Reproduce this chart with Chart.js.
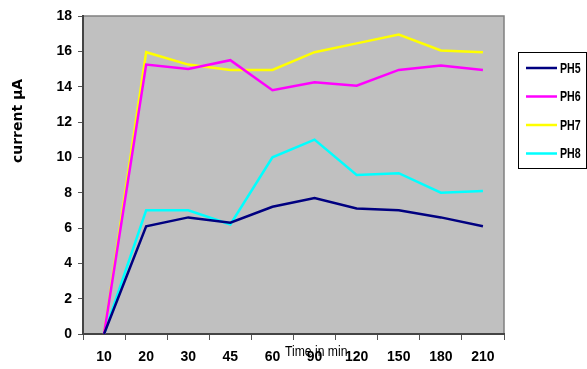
<!DOCTYPE html>
<html>
<head>
<meta charset="utf-8">
<script src="https://cdn.jsdelivr.net/npm/chart.js@4/dist/chart.umd.min.js"></script>
<style>
  html, body { margin: 0; padding: 0; background: #fff; }
  #wrap { width: 587px; height: 369px; position: relative; }
</style>
</head>
<body>
<div id="wrap"><canvas id="c" width="587" height="369"></canvas></div>
<script>
// Sampling times (minutes)
const times = ['10', '20', '30', '45', '60', '90', '120', '150', '180', '210'];

// Current (µA) for each pH
const ph5 = [0, 6.1, 6.6, 6.3, 7.2, 7.7, 7.1, 7.0, 6.6, 6.1];
const ph6 = [0, 15.25, 15.0, 15.5, 13.8, 14.25, 14.05, 14.95, 15.2, 14.95];
const ph7 = [0, 15.95, 15.25, 14.95, 14.95, 15.95, 16.45, 16.95, 16.05, 15.95];
const ph8 = [0, 7.0, 7.0, 6.2, 10.0, 11.0, 9.0, 9.1, 8.0, 8.1];

const seriesNames = ['PH5', 'PH6', 'PH7', 'PH8'];
const seriesColors = ['#000080', '#FF00FF', '#FFFF00', '#00FFFF'];
const yTicks = [0, 2, 4, 6, 8, 10, 12, 14, 16, 18];

const SANS = '"Liberation Sans", Arial, sans-serif';
const WIDE = '"DejaVu Sans", Verdana, sans-serif';

const PLOT = { left: 83, top: 16, right: 504, bottom: 334 };

// Grey plot background with thin frame
const plotBackground = {
  id: 'plotBackground',
  beforeDraw(chart) {
    const { ctx, chartArea: a } = chart;
    ctx.save();
    ctx.fillStyle = '#C0C0C0';
    ctx.fillRect(a.left, a.top, a.right - a.left, a.bottom - a.top);
    ctx.strokeStyle = '#808080';
    ctx.lineWidth = 1.5;
    ctx.beginPath();
    ctx.moveTo(a.left, a.top);
    ctx.lineTo(a.right, a.top);
    ctx.lineTo(a.right, a.bottom);
    ctx.stroke();
    ctx.restore();
  }
};

// Condensed text helper
function narrowText(ctx, text, x, y, squeeze) {
  ctx.save();
  ctx.translate(x, y);
  ctx.scale(squeeze, 1);
  ctx.fillText(text, 0, 0);
  ctx.restore();
}

// Axis titles and boxed legend
const decorations = {
  id: 'decorations',
  afterDraw(chart) {
    const { ctx } = chart;
    ctx.save();
    ctx.fillStyle = '#000';
    // y title
    ctx.save();
    ctx.translate(18, 121);
    ctx.rotate(-Math.PI / 2);
    ctx.font = 'bold 14px ' + WIDE;
    ctx.textAlign = 'center';
    ctx.textBaseline = 'middle';
    ctx.fillText('current µA', 0, 0);
    ctx.restore();
    // x title
    ctx.font = '14px ' + SANS;
    ctx.textAlign = 'left';
    ctx.textBaseline = 'middle';
    narrowText(ctx, 'Time in min', 285, 352, 0.87);

    // legend box
    ctx.strokeStyle = '#000';
    ctx.lineWidth = 1;
    ctx.strokeRect(518.5, 52.5, 68, 116);
    chart.data.datasets.forEach((ds, i) => {
      const y = 68 + i * 28.5;
      ctx.strokeStyle = ds.borderColor;
      ctx.lineWidth = 2.5;
      ctx.beginPath();
      ctx.moveTo(526, y);
      ctx.lineTo(557, y);
      ctx.stroke();
      ctx.fillStyle = '#000';
      ctx.font = 'bold 14px ' + SANS;
      ctx.textAlign = 'left';
      ctx.textBaseline = 'middle';
      narrowText(ctx, ds.label, 560, y + 1, 0.76);
    });
    ctx.restore();
  }
};

const values = [ph5, ph6, ph7, ph8];

new Chart(document.getElementById('c'), {
  type: 'line',
  data: {
    labels: times,
    datasets: seriesNames.map((name, i) => ({
      label: name,
      data: values[i],
      borderColor: seriesColors[i],
      backgroundColor: seriesColors[i],
      borderWidth: 2.5,
      pointRadius: 0,
      tension: 0,
      fill: false
    }))
  },
  options: {
    responsive: false,
    animation: false,
    devicePixelRatio: 1,
    layout: { padding: { left: 0, top: PLOT.top, right: 587 - PLOT.right, bottom: 0 } },
    plugins: {
      legend: { display: false },
      tooltip: { enabled: false }
    },
    scales: {
      x: {
        type: 'category',
        offset: true,
        afterFit(s) { s.height = 369 - PLOT.bottom; },
        grid: {
          display: true,
          offset: true,
          drawOnChartArea: false,
          drawTicks: true,
          tickLength: 6,
          color: '#555'
        },
        border: { display: true, color: '#444', width: 2 },
        ticks: {
          color: '#000',
          padding: 9,
          maxRotation: 0,
          autoSkip: false,
          font: { family: SANS, size: 14, weight: 'bold' }
        }
      },
      y: {
        min: 0,
        max: 18,
        afterFit(s) { s.width = PLOT.left; },
        afterBuildTicks(s) { s.ticks = yTicks.map(v => ({ value: v })); },
        grid: {
          display: true,
          drawOnChartArea: false,
          drawTicks: true,
          tickLength: 5,
          color: '#555'
        },
        border: { display: true, color: '#444', width: 2 },
        ticks: {
          color: '#000',
          padding: 6,
          font: { family: SANS, size: 14, weight: 'bold' }
        }
      }
    }
  },
  plugins: [plotBackground, decorations]
});
</script>
</body>
</html>
